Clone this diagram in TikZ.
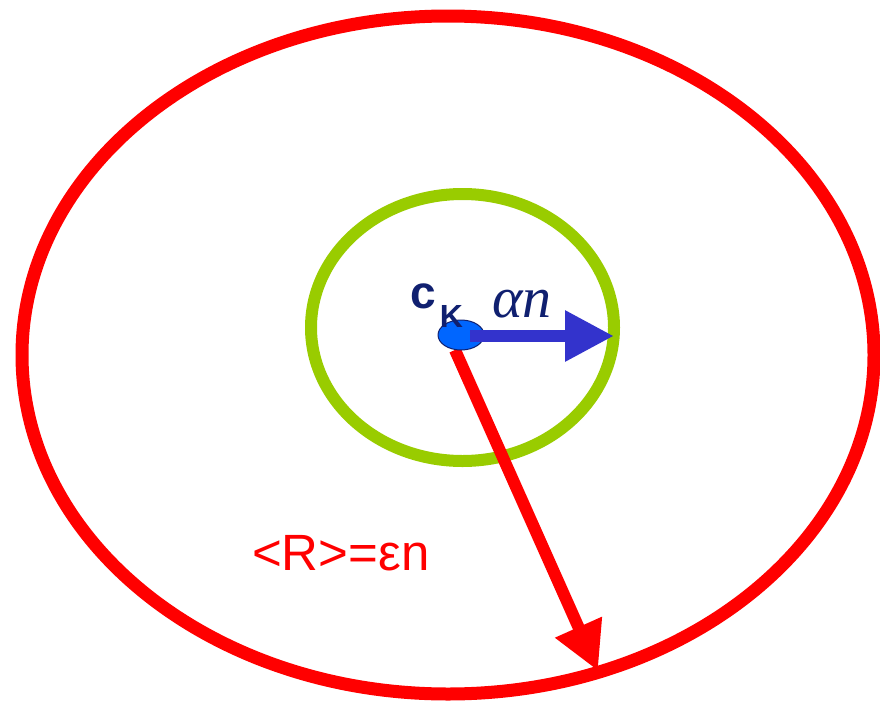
\documentclass[tikz,border=0pt]{standalone}
\usepackage{fontspec}
\setmainfont{Liberation Sans}
\newfontfamily\timesf{Liberation Serif}
\usetikzlibrary{arrows.meta,shapes.geometric}
\definecolor{ringred}{RGB}{255,0,0}
\definecolor{ringgreen}{RGB}{153,204,0}
\definecolor{arrowblue}{RGB}{51,51,204}
\definecolor{dotblue}{RGB}{0,102,255}
\definecolor{navy}{RGB}{16,32,112}
\tikzset{
  ring/.style={line width=#1},
  lbl/.style={anchor=base west, inner sep=0pt},
}
\begin{document}
\begin{tikzpicture}[x=1pt,y=-1pt]
\useasboundingbox (0,0) rectangle (880,707);
\draw[ringred, ring=13pt] (448,355) ellipse [x radius=426, y radius=339];
\draw[ringgreen, ring=12pt] (462.5,327.5) ellipse [x radius=151.5, y radius=133.5];
\coordinate (rstart) at (455,350);
\coordinate (rend) at (598,671);
\draw[ringred, line width=12pt, -{Triangle[length=48pt,width=48pt]}] (rstart) -- (rend);
\node[ellipse, draw=navy, line width=1pt, fill=dotblue, minimum width=46pt, minimum height=30pt, inner sep=0pt] (ck) at (461,335) {};
\coordinate (bend) at (614,336);
\draw[arrowblue, line width=12pt, -{Triangle[length=49pt,width=48pt]}] ([xshift=9pt]ck.center |- bend) -- (bend);
\node[lbl, text=navy, font=\fontsize{46}{46}\selectfont\bfseries] (cklabel) at (410,308) {c\kern4pt\raisebox{-19pt}{\fontsize{32}{32}\selectfont K}};
\node[lbl, text=navy, font=\timesf\itshape\fontsize{58}{58}\selectfont] (alabel) at (492,317) {αn};
\node[lbl, text=ringred, font=\fontsize{51}{51}\selectfont] (rlabel) at (252,570) {<R>=εn};
\end{tikzpicture}
\end{document}
